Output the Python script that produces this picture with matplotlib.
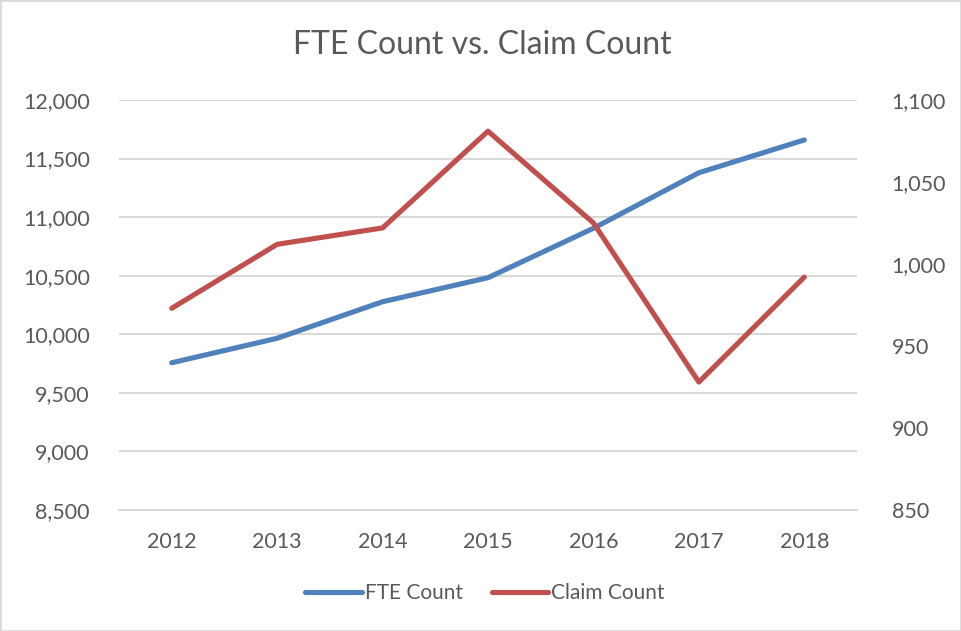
import matplotlib
matplotlib.use('Agg')
import matplotlib.pyplot as plt
from matplotlib.ticker import FuncFormatter, MultipleLocator
from matplotlib.patches import Rectangle

years = ['2012', '2013', '2014', '2015', '2016', '2017', '2018']
fte_count = [9757, 9966, 10278, 10483, 10905, 11379, 11659]
claim_count = [973, 1012, 1022, 1081, 1025, 928, 992]

plt.rcParams['font.family'] = ['Lato', 'DejaVu Sans']
txt = '#595959'
grid_c = '#D9D9D9'

fig = plt.figure(figsize=(9.61, 6.31), dpi=100)
ax = fig.add_axes([119/961, 121/631, 738/961, 410/631])
ax2 = ax.twinx()

x = list(range(len(years)))
l1, = ax.plot(x, fte_count, color='#4F81BD', lw=3.7, solid_capstyle='round',
              solid_joinstyle='round', label='FTE Count')
l2, = ax2.plot(x, claim_count, color='#C0504D', lw=3.7, solid_capstyle='round',
               solid_joinstyle='round', label='Claim Count')

ax.set_xlim(-0.5, len(years) - 0.5)
ax.set_ylim(8500, 12000)
ax2.set_ylim(850, 1100)
ax.yaxis.set_major_locator(MultipleLocator(500))
ax2.yaxis.set_major_locator(MultipleLocator(50))
fmt = FuncFormatter(lambda v, p: f'{int(v):,}')
ax.yaxis.set_major_formatter(fmt)
ax2.yaxis.set_major_formatter(fmt)
ax.set_xticks(x)
ax.set_xticklabels(years)

ax.grid(axis='y', color=grid_c, lw=1.5)
ax.set_axisbelow(True)
for a in (ax, ax2):
    for s in a.spines.values():
        s.set_visible(False)
    a.tick_params(length=0, labelsize=15.5, colors=txt)
ax.tick_params(axis='y', pad=21)
ax2.tick_params(axis='y', pad=25)
ax.tick_params(axis='x', pad=16)
ax.spines['bottom'].set_visible(True)
ax.spines['bottom'].set_color(grid_c)
ax.spines['bottom'].set_linewidth(1.5)

fig.text(482/961, 1 - 45/631, 'FTE Count vs. Claim Count', ha='center', va='center',
         fontsize=23, color=txt)

fig.legend([l1, l2], ['FTE Count', 'Claim Count'], loc='center',
           bbox_to_anchor=(485/961, 1 - 593/631), ncol=2, frameon=False,
           fontsize=15, labelcolor=txt, handlelength=2.7, handletextpad=0.15,
           columnspacing=1.4)

fig.patches.append(Rectangle((0, 0), 1, 1, transform=fig.transFigure, fill=False,
                             edgecolor=grid_c, lw=2))

fig.savefig('out.png', dpi=100)
